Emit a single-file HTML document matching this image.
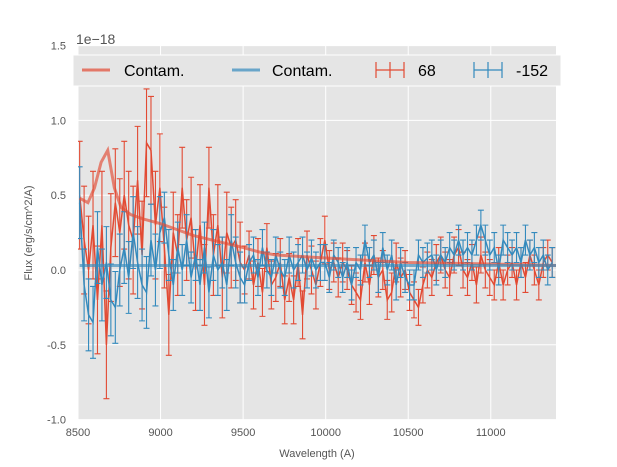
<!DOCTYPE html>
<html><head><meta charset="utf-8"><style>
body{margin:0;background:#fff;}
svg{display:block;font-family:"Liberation Sans",sans-serif;}
</style></head><body>
<svg id="chart" width="617" height="467" viewBox="0 0 617 467" xmlns="http://www.w3.org/2000/svg">
<defs><clipPath id="pc"><rect x="78" y="46" width="478" height="374"/></clipPath></defs>
<rect x="78" y="46" width="478" height="374" fill="#e5e5e5"/>
<g id="grid"></g>
<g id="ticks"></g>
<g id="series" clip-path="url(#pc)"></g>
<text x="76" y="44" font-size="14" fill="#555">1e−18</text>
<text x="317" y="457" font-size="11" fill="#555" text-anchor="middle">Wavelength (A)</text>
<text x="32" y="233" font-size="11" fill="#555" text-anchor="middle" transform="rotate(-90 32 233)">Flux (erg/s/cm^2/A)</text>
<g>
<rect x="73" y="55" width="488" height="31" fill="#e5e5e5" stroke="#fff" stroke-width="1"/>
<g><line x1="82" y1="70" x2="110" y2="70" stroke="#E24A33" stroke-opacity="0.7" stroke-width="3"/><text x="124" y="76" font-size="16" fill="#000">Contam.</text></g>
<g><line x1="232" y1="70" x2="260" y2="70" stroke="#348ABD" stroke-opacity="0.7" stroke-width="3"/><text x="272" y="76" font-size="16" fill="#000">Contam.</text></g>
<g stroke="#E24A33" stroke-width="1.2"><line x1="376" y1="70" x2="404" y2="70"/><line x1="390" y1="62" x2="390" y2="78"/><line x1="376" y1="62" x2="376" y2="78"/><line x1="404" y1="62" x2="404" y2="78"/><text x="418" y="76" font-size="16" fill="#000" stroke="none">68</text></g>
<g stroke="#348ABD" stroke-width="1.2"><line x1="474" y1="70" x2="502" y2="70"/><line x1="488" y1="62" x2="488" y2="78"/><line x1="474" y1="62" x2="474" y2="78"/><line x1="502" y1="62" x2="502" y2="78"/><text x="516" y="76" font-size="16" fill="#000" stroke="none">-152</text></g>
</g>
</svg>
<script>
const xTicks=[8500,9000,9500,10000,10500,11000];
const yTicks=[-1.0,-0.5,0.0,0.5,1.0,1.5];
const wlStart=8510, wlStep=27;
const redFlux=[0.5,0.2,0.0,0.3,-0.2,0.3,-0.5,0.15,0.45,0.25,0.5,0.3,0.2,0.6,0.1,0.85,0.8,0.3,0.55,
0.15,-0.3,0.25,0.1,0.55,0.2,0.35,0.0,0.3,-0.1,0.55,0.1,0.3,-0.05,0.25,0.15,0.2,0.05,
0.0,0.1,-0.1,0.05,-0.15,0.15,-0.1,-0.05,0.05,-0.2,-0.05,-0.2,0.05,-0.3,0.1,0.0,-0.1,0.05,
0.2,0.0,0.05,-0.05,0.05,0.0,-0.1,-0.15,-0.2,0.05,-0.1,0.1,-0.05,0.0,-0.2,-0.15,0.05,-0.05,0.0,
-0.15,-0.2,-0.25,-0.1,0.0,-0.05,0.05,0.1,0.0,-0.05,0.1,0.15,0.0,-0.05,0.05,-0.1,0.1,0.0,
-0.05,-0.1,0.05,-0.1,0.0,0.05,-0.1,0.05,-0.05,0.1,0.0,-0.1,0.05,0.1,0.05];
const blueFlux=[0.45,-0.1,-0.3,-0.35,0.15,-0.1,0.05,-0.2,-0.25,0.0,0.15,-0.05,0.25,0.05,-0.1,-0.15,0.2,0.0,0.25,
0.35,0.1,-0.1,0.15,0.0,0.2,-0.05,0.1,-0.1,0.15,-0.15,0.1,0.0,0.05,-0.1,0.2,0.05,-0.05,
-0.1,0.05,0.1,-0.05,0.15,0.0,-0.05,0.1,0.0,-0.05,0.1,0.0,0.05,0.1,0.0,0.08,0.0,0.05,
0.05,-0.05,0.1,0.05,-0.05,0.05,-0.1,0.05,0.0,0.2,0.05,0.1,-0.05,0.15,0.0,0.1,-0.1,0.05,-0.05,
-0.1,-0.1,0.1,0.05,0.08,0.1,0.0,0.1,0.05,0.15,0.1,0.2,0.1,0.15,0.1,0.2,0.3,0.2,
0.1,0.15,0.0,0.2,0.15,0.1,0.15,0.05,0.2,0.1,0.15,0.05,0.1,0.0,0.05];
const redErrByChunk=[0.36,0.27,0.16,0.13,0.12,0.1];
const blueErrByChunk=[0.24,0.17,0.12,0.1,0.1,0.1];
const redContamWl=[8510,8560,8600,8640,8680,8720,8760,8820,8900,9000,9100,9200,9350,9500,9600,9700,10000,10500,11000,11400];
const redContamVal=[0.48,0.45,0.55,0.72,0.8,0.55,0.42,0.37,0.34,0.31,0.27,0.23,0.19,0.15,0.12,0.1,0.08,0.05,0.04,0.03];
const blueContamWl=[8510,11400];
const blueContamVal=[0.03,0.03];

const X=w=>78+(w-8500)*478/2895;
const Y=v=>270-v*149.6;
const NS="http://www.w3.org/2000/svg";
function mk(parent,tag,attrs){const e=document.createElementNS(NS,tag);for(const k in attrs)e.setAttribute(k,attrs[k]);parent.appendChild(e);return e;}
const grid=document.getElementById('grid'),ticks=document.getElementById('ticks'),series=document.getElementById('series');
xTicks.forEach(t=>{
 const l=mk(grid,'line',{x1:X(t),x2:X(t),y1:46,y2:420,stroke:'#fff','stroke-width':1});
 
 
 const tx=mk(ticks,'text',{x:X(t),y:436,'font-size':11,fill:'#555','text-anchor':'middle'});tx.textContent=t;
 
 
});
yTicks.forEach(t=>{
 const l=mk(grid,'line',{x1:78,x2:556,y1:Y(t),y2:Y(t),stroke:'#fff','stroke-width':1});
 
 
 const tx=mk(ticks,'text',{x:66,y:Y(t)+4,'font-size':11,fill:'#555','text-anchor':'end'});tx.textContent=t.toFixed(1);
 
 
});
function contam(wl,val,color,name){
 const p=mk(series,'polyline',{points:wl.map((w,i)=>X(w)+','+Y(val[i])).join(' '),fill:'none',stroke:color,'stroke-opacity':0.65,'stroke-width':3});
 
 
}
function errSeries(flux,errs,color,name){
 const g=mk(series,'g',{stroke:color,'stroke-width':1.1,fill:'none'});
 
 
 flux.forEach((v,i)=>{
  const w=wlStart+i*wlStep,x=X(w),e=errs[Math.min(5,Math.floor((w-8500)/500))];
  const b=mk(g,'path',{d:`M${x},${Y(v+e)}V${Y(v-e)}M${x-3},${Y(v+e)}h6M${x-3},${Y(v-e)}h6`});
  
  
 });
 const p=mk(g,'polyline',{points:flux.map((v,i)=>X(wlStart+i*wlStep)+','+Y(v)).join(' '),'stroke-width':1.5});
 
 
}
errSeries(redFlux,redErrByChunk,'#E24A33','series-68');
errSeries(blueFlux,blueErrByChunk,'#348ABD','series-minus152');
contam(redContamWl,redContamVal,'#E24A33','red-contam-line');
contam(blueContamWl,blueContamVal,'#348ABD','blue-contam-line');
</script>
</body></html>
